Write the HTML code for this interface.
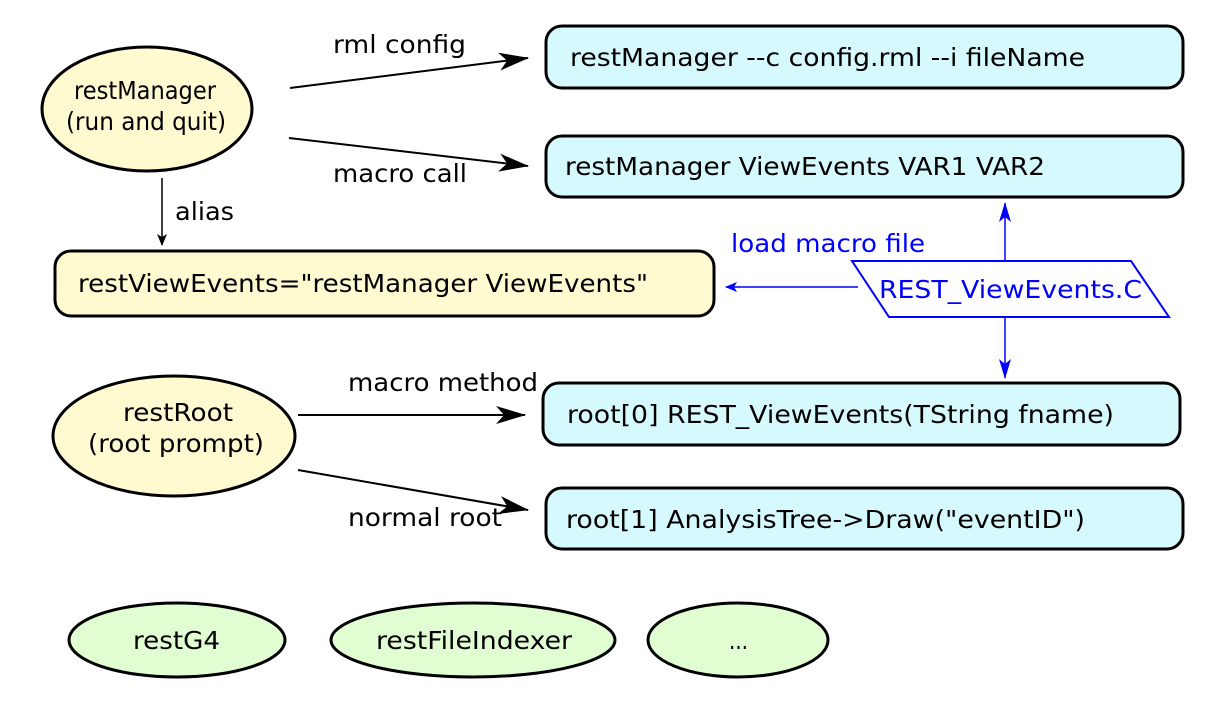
<!DOCTYPE html>
<html><head><style>body{margin:0;background:#fff}svg{display:block}</style></head><body>
<svg width="1227" height="703" xmlns="http://www.w3.org/2000/svg" font-family="DejaVu Sans, sans-serif" font-size="25">
<defs>
<marker id="ab" markerWidth="12" markerHeight="10" refX="11" refY="5" orient="auto" markerUnits="userSpaceOnUse"><path d="M0,0 L12,5 L0,10 L3,5z" fill="#000"/></marker>
<marker id="abl" markerWidth="30" markerHeight="20" refX="29" refY="10" orient="auto" markerUnits="userSpaceOnUse"><path d="M0,1 L30,10 L0,19 L8,10z" fill="#000"/></marker>
<marker id="bb" markerWidth="20" markerHeight="12" refX="19" refY="6" orient="auto" markerUnits="userSpaceOnUse"><path d="M0,0 L20,6 L0,12 L5,6z" fill="#00f"/></marker>
<marker id="bs" markerWidth="12" markerHeight="10" refX="11" refY="5" orient="auto" markerUnits="userSpaceOnUse"><path d="M0,0 L12,5 L0,10 L3,5z" fill="#00f"/></marker>
</defs>
<g stroke="#000" stroke-width="3">
<ellipse cx="147" cy="109" rx="105" ry="62" fill="#fffad0"/>
<rect x="546" y="26" width="637" height="62" rx="16" fill="#d5f9fd"/>
<rect x="546" y="136" width="637" height="61" rx="16" fill="#d5f9fd"/>
<rect x="55" y="251" width="659" height="65" rx="16" fill="#fffad0"/>
<ellipse cx="174" cy="436" rx="121" ry="60" fill="#fffad0"/>
<rect x="543" y="383" width="637" height="62" rx="16" fill="#d5f9fd"/>
<rect x="546" y="488" width="637" height="61" rx="16" fill="#d5f9fd"/>
<ellipse cx="177" cy="640" rx="108" ry="37" fill="#e1fdd2"/>
<ellipse cx="473" cy="640" rx="142" ry="37" fill="#e1fdd2"/>
<ellipse cx="738" cy="640" rx="90" ry="37" fill="#e1fdd2"/>
</g>
<g stroke="#000" stroke-width="2" fill="none">
<line x1="290" y1="88" x2="528" y2="58" marker-end="url(#abl)"/>
<line x1="289" y1="138" x2="528" y2="166" marker-end="url(#abl)"/>
<line x1="298" y1="415" x2="525" y2="415" marker-end="url(#abl)"/>
<line x1="298" y1="470" x2="528" y2="510" marker-end="url(#abl)"/>
<line x1="162" y1="178" x2="162" y2="245" stroke-width="1.5" marker-end="url(#ab)"/>
</g>
<polygon points="852,261 1131,261 1169,317 889,317" fill="#fff" stroke="#00f" stroke-width="2"/>
<g stroke="#00f" stroke-width="1.5">
<line x1="1005" y1="261" x2="1005" y2="203" marker-end="url(#bb)"/>
<line x1="1005" y1="317" x2="1005" y2="378" marker-end="url(#bb)"/>
<line x1="858" y1="287" x2="726" y2="287" marker-end="url(#bs)"/>
</g>
<g fill="#000">
<text x="74" y="99" textLength="142" lengthAdjust="spacingAndGlyphs">restManager</text>
<text x="66" y="130" textLength="160" lengthAdjust="spacingAndGlyphs">(run and quit)</text>
<text x="123" y="421" textLength="110" lengthAdjust="spacingAndGlyphs">restRoot</text>
<text x="88" y="452" textLength="176" lengthAdjust="spacingAndGlyphs">(root prompt)</text>
<text x="133" y="649" textLength="87" lengthAdjust="spacingAndGlyphs">restG4</text>
<text x="376" y="649" textLength="196" lengthAdjust="spacingAndGlyphs">restFileIndexer</text>
<text x="729" y="649" textLength="19" lengthAdjust="spacingAndGlyphs">...</text>
<text x="570" y="66" textLength="515" lengthAdjust="spacingAndGlyphs">restManager --c config.rml --i fileName</text>
<text x="565" y="175" textLength="480" lengthAdjust="spacingAndGlyphs">restManager ViewEvents VAR1 VAR2</text>
<text x="78" y="292" textLength="570" lengthAdjust="spacingAndGlyphs">restViewEvents="restManager ViewEvents"</text>
<text x="567" y="423" textLength="547" lengthAdjust="spacingAndGlyphs">root[0] REST_ViewEvents(TString fname)</text>
<text x="566" y="528" textLength="519" lengthAdjust="spacingAndGlyphs">root[1] AnalysisTree-&gt;Draw("eventID")</text>
<text x="333" y="53" textLength="133" lengthAdjust="spacingAndGlyphs">rml config</text>
<text x="333" y="182" textLength="134" lengthAdjust="spacingAndGlyphs">macro call</text>
<text x="175" y="220" textLength="59" lengthAdjust="spacingAndGlyphs">alias</text>
<text x="348" y="391" textLength="190" lengthAdjust="spacingAndGlyphs">macro method</text>
<text x="348" y="526" textLength="154" lengthAdjust="spacingAndGlyphs">normal root</text>
</g>
<g fill="#00f">
<text x="731" y="252" textLength="194" lengthAdjust="spacingAndGlyphs">load macro file</text>
<text x="879" y="298" textLength="263" lengthAdjust="spacingAndGlyphs">REST_ViewEvents.C</text>
</g>
</svg>
</body></html>
